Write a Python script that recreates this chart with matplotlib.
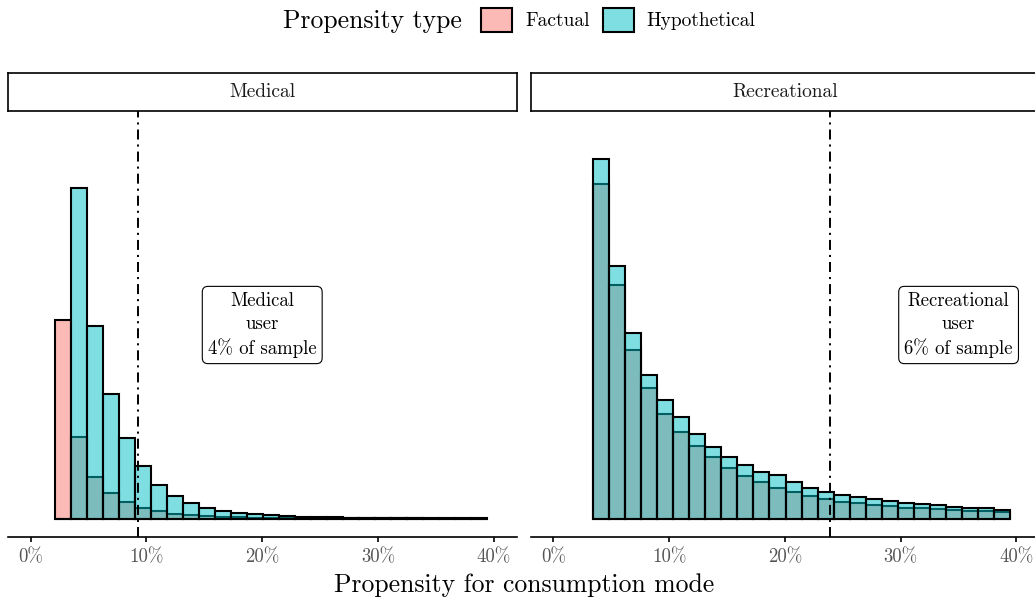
#!/usr/bin/env python3

import numpy as np
import matplotlib

matplotlib.use("Agg")
import matplotlib.pyplot as plt
from matplotlib.patches import Patch
from matplotlib.ticker import PercentFormatter

plt.rcParams["font.family"] = "serif"
plt.rcParams["font.serif"] = ["cmr10", "DejaVu Serif"]
plt.rcParams["mathtext.fontset"] = "cm"
plt.rcParams["axes.formatter.use_mathtext"] = True
plt.rcParams["lines.scale_dashes"] = False

# shared histogram bin grid (percent)
BIN_START = 2.07
BIN_WIDTH = 1.383
N_BINS = 27

panels = ["Medical", "Recreational"]
cutoffs = [9.27, 23.92]
user_share = ["4%", "6%"]
label_x = [20, 35]

# bar heights per bin (counts)
factual_med = [198.4, 81.4, 41.7, 26, 16.7, 10.7, 7.5, 5, 3.5, 2.5, 2, 1.5, 1.2,
               1, 0.8, 0.7, 0.6, 0.5, 0.4, 0.4, 0.3, 0.3, 0.3, 0.2, 0.2, 0.2, 0.2]
hypo_med = [0, 331, 193, 125, 81, 53, 34, 22.5, 15.5, 11, 8, 6, 4.5, 3.3, 2.5,
            2, 1.6, 1.3, 1.1, 1.0, 0.9, 0.8, 0.7, 0.6, 0.5, 0.5, 0.4]
# recreational has no observations in the first bin
factual_rec = [335.2, 233.8, 168.5, 130.5, 104.2, 86.8, 72.8, 61.8, 50.8, 42.5,
               36.5, 30.2, 26.8, 22.2, 19.7, 16.8, 15.8, 13.8, 12.5, 10.8, 10.2,
               9.5, 8.2, 7.5, 7.2, 6.2]
hypo_rec = [360.2, 253.2, 186.2, 143.8, 118.2, 101.5, 84.5, 71.8, 61.5, 53.5,
            46.8, 43.3, 36.5, 30.8, 26.2, 23.5, 21.5, 19.2, 17.5, 15.8, 14.5,
            13.5, 11.8, 10.2, 10.2, 8.8]

FACT_COL = (0.973, 0.463, 0.427, 0.5)  # #F8766D
HYPO_COL = (0.0, 0.749, 0.769, 0.5)  # #00BFC4

W, H = 1035, 602
fig = plt.figure(figsize=(W / 100, H / 100), dpi=100)

edges = BIN_START + BIN_WIDTH * np.arange(N_BINS + 1)
series = [(factual_med, hypo_med, edges), (factual_rec, hypo_rec, edges[1:])]

panel_left = [8, 530.7]
panel_w = 508.7
panel_top, panel_bot = 111, 537.3
strip_top = 73

for i, name in enumerate(panels):
    fact, hypo, e = series[i]
    ax = fig.add_axes([panel_left[i] / W, 1 - panel_bot / H, panel_w / W,
                       (panel_bot - panel_top) / H])
    ax.hist(e[:-1], bins=e, weights=fact, facecolor=FACT_COL,
            edgecolor="black", linewidth=1.5)
    ax.hist(e[:-1], bins=e, weights=hypo, facecolor=HYPO_COL,
            edgecolor="black", linewidth=1.5)
    ax.axvline(cutoffs[i], color="black", linewidth=1.4,
               dashes=(7.2, 3.6, 1.5, 3.6))
    ax.text(label_x[i], 193.7, f"{name}\nuser\n{user_share[i]} of sample",
            ha="center", va="center", fontsize=13.5, linespacing=1.35,
            bbox=dict(boxstyle="round,pad=0.3", fc="white", ec="black", lw=0.8))

    ax.set_xlim(-1.96, 41.98)
    ax.set_ylim(-18.6, 407.7)
    ax.set_xticks([0, 10, 20, 30, 40])
    ax.xaxis.set_major_formatter(PercentFormatter(xmax=100, decimals=0))
    ax.set_yticks([])
    for s in ["top", "left", "right"]:
        ax.spines[s].set_visible(False)
    ax.spines["bottom"].set_linewidth(1.2)
    ax.tick_params(axis="x", length=3.6, width=1.2, pad=4, labelsize=13.5,
                   labelcolor="#555555")

    strip = fig.add_axes([panel_left[i] / W, 1 - panel_top / H, panel_w / W,
                          (panel_top - strip_top) / H])
    strip.set_xticks([])
    strip.set_yticks([])
    for s in strip.spines.values():
        s.set_linewidth(1.2)
    strip.text(0.5, 0.5, name, ha="center", va="center", fontsize=14,
               color="#1a1a1a", transform=strip.transAxes)

fig.text(523.7 / W, 1 - 592 / H, "Propensity for consumption mode",
         ha="center", va="baseline", fontsize=18.5)

# legend
fig.text(283 / W, 1 - 28 / H, "Propensity type", ha="left", va="baseline",
         fontsize=18.5)
handles = [Patch(facecolor=FACT_COL, edgecolor="black", linewidth=1.5),
           Patch(facecolor=HYPO_COL, edgecolor="black", linewidth=1.5)]
fig.legend(handles, ["Factual", "Hypothetical"], loc="center left",
           bbox_to_anchor=(481 / W, 1 - 20 / H), ncol=2, frameon=False,
           fontsize=14, handlelength=1.6, handleheight=1.6,
           handletextpad=0.67, columnspacing=0.67, borderpad=0,
           borderaxespad=0)

fig.savefig("out.png", dpi=100)
